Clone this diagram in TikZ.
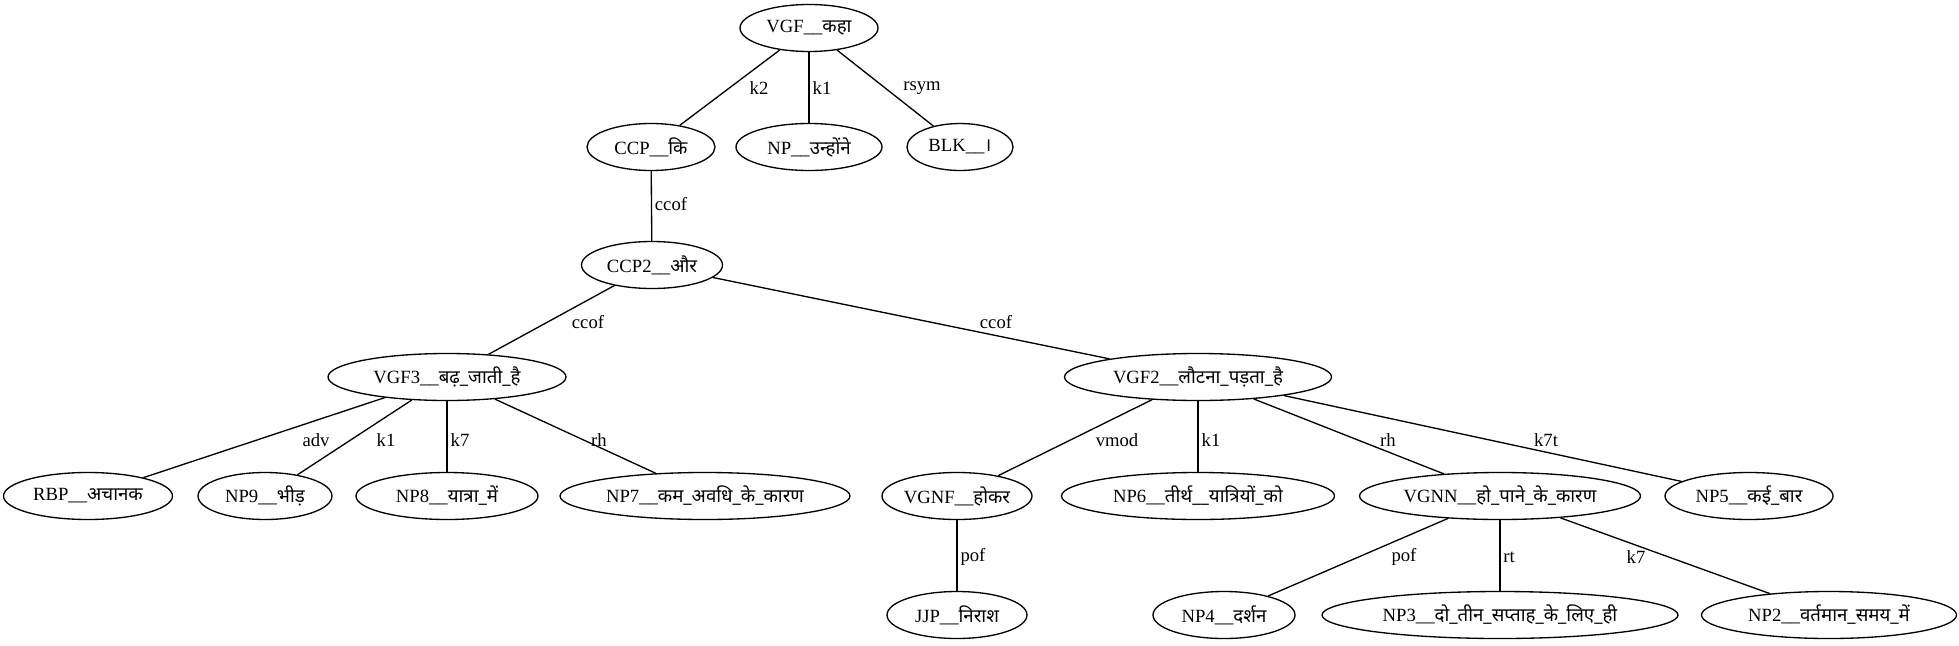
\documentclass[tikz,border=0pt]{standalone}
\usepackage{fontspec}
\setmainfont{Liberation Serif}
\newfontfamily\dev[Script=Devanagari]{Noto Sans}
\usetikzlibrary{shapes.geometric}
\newcommand{\zt}[1]{\makebox[0pt]{#1}}
\begin{document}
\begin{tikzpicture}[x=1pt,y=-1pt,
  tn/.style={ellipse, draw, line width=1.33pt, inner sep=0pt, minimum height=47pt, font=\fontsize{18.67}{22}\selectfont},
  el/.style={inner sep=0pt, font=\fontsize{18.67}{22}\selectfont},
  ed/.style={line width=1.33pt}]
\useasboundingbox (0,0) rectangle (1959,645);
\node[tn, minimum width=138pt] (vgf) at (809,28) {\zt{VGF\_\_{\dev कहा}}};
\node[tn, minimum width=128pt] (ccp) at (651,147) {\zt{CCP\_\_{\dev कि}}};
\node[tn, minimum width=146pt] (np) at (809,147) {\zt{NP\_\_{\dev उन्होंने}}};
\node[tn, minimum width=106pt] (blk) at (960,147) {\zt{BLK\_\_{\dev ।}}};
\node[tn, minimum width=141pt] (ccp2) at (652,265) {\zt{CCP2\_\_{\dev और}}};
\node[tn, minimum width=238pt] (vgf3) at (447,377) {\zt{VGF3\_\_{\dev बढ़\_जाती\_है}}};
\node[tn, minimum width=267pt] (vgf2) at (1198,377) {\zt{VGF2\_\_{\dev लौटना\_पड़ता\_है}}};
\node[tn, minimum width=169pt] (rbp) at (88,496) {\zt{RBP\_\_{\dev अचानक}}};
\node[tn, minimum width=134pt] (np9) at (265,496) {\zt{NP9\_\_{\dev भीड़}}};
\node[tn, minimum width=182pt] (np8) at (447,496) {\zt{NP8\_\_{\dev यात्रा\_में}}};
\node[tn, minimum width=290pt] (np7) at (705,496) {\zt{NP7\_\_{\dev कम\_अवधि\_के\_कारण}}};
\node[tn, minimum width=150pt] (vgnf) at (957,496) {\zt{VGNF\_\_{\dev होकर}}};
\node[tn, minimum width=273pt] (np6) at (1198,496) {\zt{NP6\_\_{\dev तीर्थ\_\_यात्रियों\_को}}};
\node[tn, minimum width=281pt] (vgnn) at (1500,496) {\zt{VGNN\_\_{\dev हो\_पाने\_के\_कारण}}};
\node[tn, minimum width=168pt] (np5) at (1749,496) {\zt{NP5\_\_{\dev कई\_बार}}};
\node[tn, minimum width=140pt] (jjp) at (957,615) {\zt{JJP\_\_{\dev निराश}}};
\node[tn, minimum width=142pt] (np4) at (1224,615) {\zt{NP4\_\_{\dev दर्शन}}};
\node[tn, minimum width=356pt] (np3) at (1500,615) {\zt{NP3\_\_{\dev दो\_तीन\_सप्ताह\_के\_लिए\_ही}}};
\node[tn, minimum width=255pt] (np2) at (1829,615) {\zt{NP2\_\_{\dev वर्तमान\_समय\_में}}};
% edges
\draw[ed] (vgf) -- (ccp);
\draw[ed] (vgf) -- (np);
\draw[ed] (vgf) -- (blk);
\draw[ed] (ccp) -- (ccp2);
\draw[ed] (ccp2) -- (vgf3);
\draw[ed] (ccp2) -- (vgf2);
\draw[ed] (vgf3) -- (rbp);
\draw[ed] (vgf3) -- (np9);
\draw[ed] (vgf3) -- (np8);
\draw[ed] (vgf3) -- (np7);
\draw[ed] (vgf2) -- (vgnf);
\draw[ed] (vgf2) -- (np6);
\draw[ed] (vgf2) -- (vgnn);
\draw[ed] (vgf2) -- (np5);
\draw[ed] (vgnf) -- (jjp);
\draw[ed] (vgnn) -- (np4);
\draw[ed] (vgnn) -- (np3);
\draw[ed] (vgnn) -- (np2);
% edge labels
\node[el] (l1) at (759,88) {k2};
\node[el] (l2) at (822,88) {k1};
\node[el] (l3) at (922,88) {rsym};
\node[el] (l4) at (671,204) {ccof};
\node[el] (l5) at (588,322) {ccof};
\node[el] (l6) at (996,322) {ccof};
\node[el] (l7) at (316,440) {adv};
\node[el] (l8) at (386,440) {k1};
\node[el] (l9) at (460,440) {k7};
\node[el] (l10) at (599,440) {rh};
\node[el] (l11) at (1117,440) {vmod};
\node[el] (l12) at (1211,440) {k1};
\node[el] (l13) at (1388,440) {rh};
\node[el] (l14) at (1546,440) {k7t};
\node[el] (l15) at (973,557) {pof};
\node[el] (l16) at (1404,557) {pof};
\node[el] (l17) at (1509,557) {rt};
\node[el] (l18) at (1636,557) {k7};
\end{tikzpicture}
\end{document}
